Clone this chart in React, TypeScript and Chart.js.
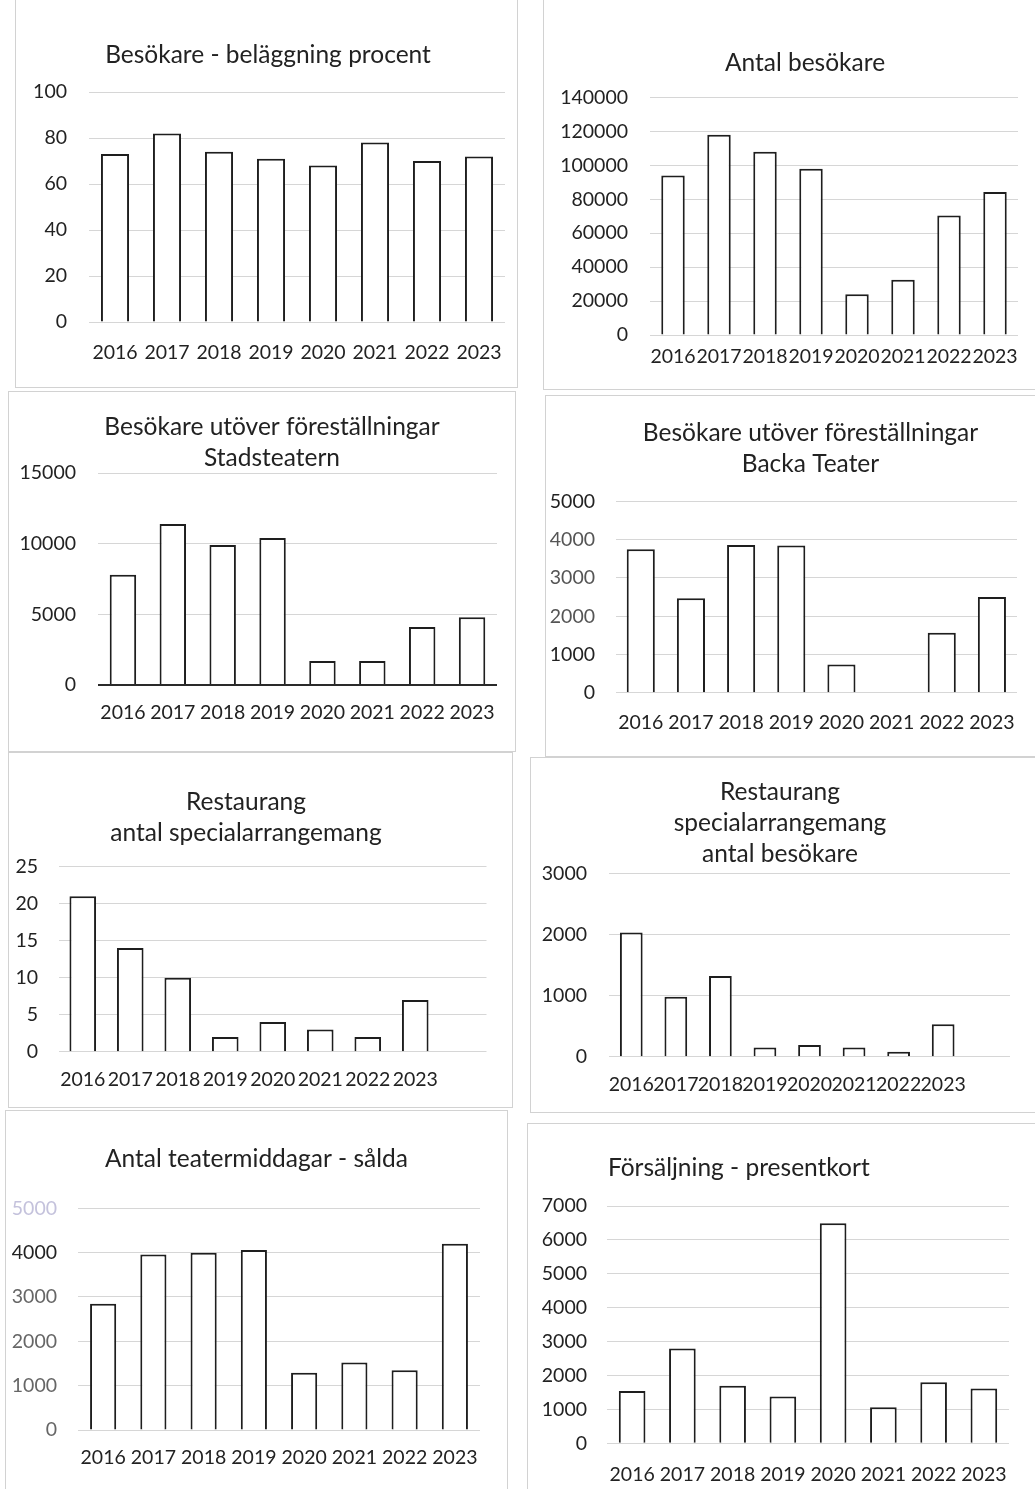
import React, { useEffect, useRef } from "react";
import { Chart, registerables } from "chart.js";

Chart.register(...registerables);

// ---------- data ----------
const years = ["2016", "2017", "2018", "2019", "2020", "2021", "2022", "2023"];
const yearsPlusBlank = [...years, ""];

const belaggningProcent = [73, 82, 74, 71, 68, 78, 70, 72];
const antalBesokare = [94000, 118000, 108000, 98000, 24000, 32500, 70500, 84300];
const stadsteaternUtover = [7800, 11400, 9900, 10400, 1700, 1700, 4100, 4800];
const backaUtover = [3750, 2470, 3860, 3850, 740, 0, 1570, 2500];
const restaurangAntal = [21, 14, 10, 2, 4, 3, 2, 7];
const restaurangBesokare = [2030, 980, 1320, 150, 190, 150, 80, 530];
const teatermiddagar = [2850, 3960, 4000, 4060, 1290, 1520, 1350, 4200];
const presentkort = [1540, 2800, 1700, 1380, 6490, 1060, 1800, 1620];

const title1 = ["Besökare - beläggning procent"];
const title2 = ["Antal besökare"];
const title3 = ["Besökare utöver föreställningar", "Stadsteatern"];
const title4 = ["Besökare utöver föreställningar", "Backa Teater"];
const title5 = ["Restaurang", "antal specialarrangemang"];
const title6 = ["Restaurang", "specialarrangemang", "antal besökare"];
const title7 = ["Antal teatermiddagar - sålda"];
const title8 = ["Försäljning - presentkort"];

// y scale ranges [max, step]
const yRange1 = [100, 20];
const yRange2 = [140000, 20000];
const yRange3 = [15000, 5000];
const yRange4 = [5000, 1000];
const yRange5 = [25, 5];
const yRange6 = [3000, 1000];
const yRange7 = [5000, 1000];
const yRange8 = [7000, 1000];

// ---------- style / layout ----------
const FONT = "Lato, 'Open Sans', sans-serif";
const TITLE_SIZE = 24.5;
const TITLE_LINE = 31;
const TICK_SIZE = 19.5;
const TICK_LH = 1.2;
const TEXT = "#222";
const GRID = "#d6d6d6";
const BAR_BORDER = "#1e1e1e";
const PANEL_BORDER = "#d2d2d2";

type Geo = {
  X: number; Y: number; W: number; H: number; // canvas rect
  L: number; R: number; T: number; B: number; // plot area (T = top tick, B = zero)
  Tc: number; Ty: number; // title center x, first line center y
  Xy: number; // x label center y
  Yr: number; // y label right edge
  bar: number;
};

type Spec = {
  labels: string[];
  values: number[];
  title: string[];
  range: number[];
  geo: Geo;
  zeroDark?: boolean;
  tickColor?: (v: number) => string;
};

const panelTitlePlugin = {
  id: "panelTitle",
  afterDraw(chart: any, _args: any, opts: any) {
    const ctx = chart.ctx;
    ctx.save();
    ctx.font = `normal ${TITLE_SIZE}px ${FONT}`;
    ctx.fillStyle = TEXT;
    ctx.textAlign = "center";
    ctx.textBaseline = "middle";
    (opts.lines as string[]).forEach((t, i) => ctx.fillText(t, opts.x, opts.y + i * TITLE_LINE));
    ctx.restore();
  },
};

function BarPanel({ spec }: { spec: Spec }) {
  const ref = useRef<HTMLCanvasElement | null>(null);
  const g = spec.geo;
  useEffect(() => {
    if (!ref.current) return;
    const tickLh = TICK_SIZE * TICK_LH;
    const pr = g.X + g.W - g.R;
    const yw = g.L - g.X;
    const pt = g.T - g.Y;
    const xh = g.Y + g.H - g.B;
    const xpad = g.Xy - g.B - tickLh / 2;
    const ypad = g.L - g.Yr;
    const data = spec.labels.map((_, i) => (i < spec.values.length ? spec.values[i] : null));
    const chart = new Chart(ref.current, {
      type: "bar",
      data: {
        labels: spec.labels,
        datasets: [
          {
            data,
            backgroundColor: "#ffffff",
            borderColor: BAR_BORDER,
            borderWidth: 2,
            borderSkipped: "bottom",
            categoryPercentage: 1,
            barPercentage: g.bar,
          },
        ],
      },
      plugins: [panelTitlePlugin],
      options: {
        animation: false,
        responsive: false,
        maintainAspectRatio: false,
        events: [],
        layout: { padding: { left: 0, right: pr, top: pt, bottom: 0 } },
        plugins: {
          legend: { display: false },
          tooltip: { enabled: false },
          title: { display: false },
          panelTitle: { lines: spec.title, x: g.Tc - g.X, y: g.Ty - g.Y },
        },
        scales: {
          x: {
            grid: { display: false, drawTicks: false },
            border: { display: false },
            ticks: {
              color: TEXT,
              font: { family: FONT, size: TICK_SIZE, lineHeight: TICK_LH },
              padding: xpad,
              autoSkip: false,
              maxRotation: 0,
              minRotation: 0,
            },
            afterFit: (s: any) => {
              s.height = xh;
              s.paddingLeft = 0;
              s.paddingRight = 0;
            },
          },
          y: {
            min: 0,
            max: spec.range[0],
            grid: {
              drawTicks: false,
              color: (c: any) => (spec.zeroDark && c.tick && c.tick.value === 0 ? "#2a2a2a" : GRID),
              lineWidth: (c: any) => (spec.zeroDark && c.tick && c.tick.value === 0 ? 2 : 1),
            },
            border: { display: false },
            ticks: {
              stepSize: spec.range[1],
              padding: ypad,
              color: (c: any) => (spec.tickColor ? spec.tickColor(c.tick.value) : TEXT),
              font: { family: FONT, size: TICK_SIZE, lineHeight: TICK_LH },
              callback: (v: any) => String(v),
            },
            afterFit: (s: any) => {
              s.width = yw;
              s.paddingTop = 0;
              s.paddingBottom = 0;
            },
          },
        },
      },
    } as any);
    return () => chart.destroy();
  }, [spec]);
  return (
    <canvas
      ref={ref}
      width={g.W}
      height={g.H}
      style={{ position: "absolute", left: g.X, top: g.Y, width: g.W, height: g.H }}
    />
  );
}

const specs: Spec[] = [
  {
    labels: years, values: belaggningProcent, title: title1, range: yRange1,
    geo: { X: 15, Y: 0, W: 500, H: 387, L: 89, R: 505, T: 92, B: 322, Tc: 268, Ty: 55, Xy: 353, Yr: 67, bar: 0.54 },
  },
  {
    labels: years, values: antalBesokare, title: title2, range: yRange2,
    geo: { X: 543, Y: 0, W: 492, H: 387, L: 650, R: 1018, T: 97.5, B: 335, Tc: 805, Ty: 63, Xy: 357, Yr: 628, bar: 0.51 },
  },
  {
    labels: years, values: stadsteaternUtover, title: title3, range: yRange3, zeroDark: true,
    geo: { X: 8, Y: 390, W: 507, H: 362, L: 98, R: 497, T: 473, B: 685, Tc: 272, Ty: 427, Xy: 713, Yr: 76, bar: 0.53 },
  },
  {
    labels: years, values: backaUtover, title: title4, range: yRange4,
    tickColor: (v) => (v === 2000 || v === 3000 || v === 4000 ? "#555" : TEXT),
    geo: { X: 545, Y: 395, W: 490, H: 362, L: 615.7, R: 1017, T: 501.5, B: 692.7, Tc: 810.5, Ty: 433, Xy: 723, Yr: 595, bar: 0.56 },
  },
  {
    labels: yearsPlusBlank, values: restaurangAntal, title: title5, range: yRange5,
    geo: { X: 0, Y: 752, W: 513, H: 356, L: 59, R: 486.5, T: 866.7, B: 1051.7, Tc: 246, Ty: 802, Xy: 1080, Yr: 38, bar: 0.56 },
  },
  {
    labels: yearsPlusBlank, values: restaurangBesokare, title: title6, range: yRange6,
    geo: { X: 530, Y: 755, W: 505, H: 360, L: 609, R: 1010, T: 873.3, B: 1056.7, Tc: 780, Ty: 792, Xy: 1085, Yr: 587, bar: 0.51 },
  },
  {
    labels: years, values: teatermiddagar, title: title7, range: yRange7,
    tickColor: (v) => (v === 5000 ? "#c4c2dc" : v === 4000 ? TEXT : "#666"),
    geo: { X: 5, Y: 1110, W: 503, H: 379, L: 78, R: 480, T: 1208.3, B: 1430, Tc: 256.5, Ty: 1159.3, Xy: 1457.3, Yr: 57, bar: 0.52 },
  },
  {
    labels: years, values: presentkort, title: title8, range: yRange8,
    geo: { X: 460, Y: 1123, W: 575, H: 366, L: 607, R: 1009, T: 1206, B: 1443.3, Tc: 738.8, Ty: 1168.3, Xy: 1475, Yr: 587, bar: 0.53 },
  },
];

const panels = [
  { l: 15, t: -2, r: 518, b: 388 },
  { l: 543, t: -2, r: 1040, b: 390 },
  { l: 8, t: 391, r: 516, b: 752 },
  { l: 545, t: 395, r: 1040, b: 757 },
  { l: 8, t: 752, r: 513, b: 1108 },
  { l: 530, t: 757, r: 1040, b: 1113 },
  { l: 5, t: 1110, r: 508, b: 1495 },
  { l: 527, t: 1123, r: 1040, b: 1495 },
];

export default function App() {
  return (
    <div style={{ position: "absolute", left: 0, top: 0, width: 1035, height: 1489, overflow: "hidden", background: "#ffffff" }}>
      {panels.map((p, i) => (
        <div
          key={"p" + i}
          style={{
            position: "absolute",
            left: p.l,
            top: p.t,
            width: p.r - p.l,
            height: p.b - p.t,
            border: `1px solid ${PANEL_BORDER}`,
            boxSizing: "border-box",
          }}
        />
      ))}
      {specs.map((s, i) => (
        <BarPanel key={"c" + i} spec={s} />
      ))}
    </div>
  );
}
